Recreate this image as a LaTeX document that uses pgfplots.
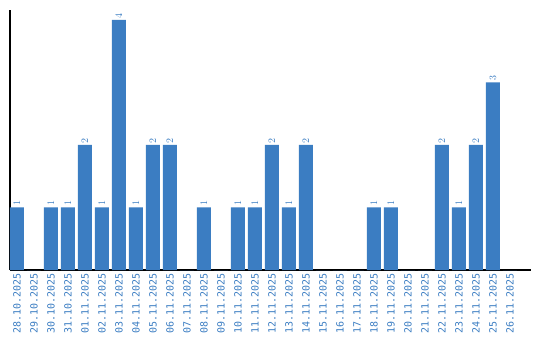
\documentclass[border=0pt]{standalone}
\usepackage{pgfplots}
\pgfplotsset{compat=1.18}
\usepackage{fontspec}
\setmainfont{DejaVu Sans Mono}
\definecolor{barblue}{HTML}{3B7DC2}
\begin{document}
\begin{tikzpicture}
\begin{axis}[
  scale only axis,
  width=521bp, height=260bp,
  ybar, bar width=14bp,
  xmin=-0.41, xmax=30.24,
  ymin=0, ymax=4.16,
  axis x line=bottom, axis y line=left,
  axis line style={-, black, line width=1.2bp},
  ytick=\empty,
  xtick={0,...,29},
  xtick style={draw=none},
  xticklabels={28.10.2025,29.10.2025,30.10.2025,31.10.2025,01.11.2025,02.11.2025,03.11.2025,04.11.2025,05.11.2025,06.11.2025,07.11.2025,08.11.2025,09.11.2025,10.11.2025,11.11.2025,12.11.2025,13.11.2025,14.11.2025,15.11.2025,16.11.2025,17.11.2025,18.11.2025,19.11.2025,20.11.2025,21.11.2025,22.11.2025,23.11.2025,24.11.2025,25.11.2025,26.11.2025},
  xticklabel style={rotate=90, anchor=east, font=\fontsize{10}{12}\selectfont, text=barblue, inner sep=1.5bp},
  nodes near coords={\pgfmathfloatifflags{\pgfplotspointmeta}{0}{}{\pgfmathprintnumber{\pgfplotspointmeta}}},
  every node near coord/.append style={rotate=90, anchor=west, font=\fontsize{10}{12}\selectfont, text=barblue, inner sep=1.5bp},
  clip=false,
]
\addplot[fill=barblue, draw=none] coordinates {
(0,1) (1,0) (2,1) (3,1) (4,2) (5,1) (6,4) (7,1) (8,2) (9,2)
(10,0) (11,1) (12,0) (13,1) (14,1) (15,2) (16,1) (17,2) (18,0) (19,0)
(20,0) (21,1) (22,1) (23,0) (24,0) (25,2) (26,1) (27,2) (28,3) (29,0)
};
\end{axis}
\path (current axis.south west) ++(-10bp,-70bp) rectangle ++(540bp,340bp);
\end{tikzpicture}
\end{document}
